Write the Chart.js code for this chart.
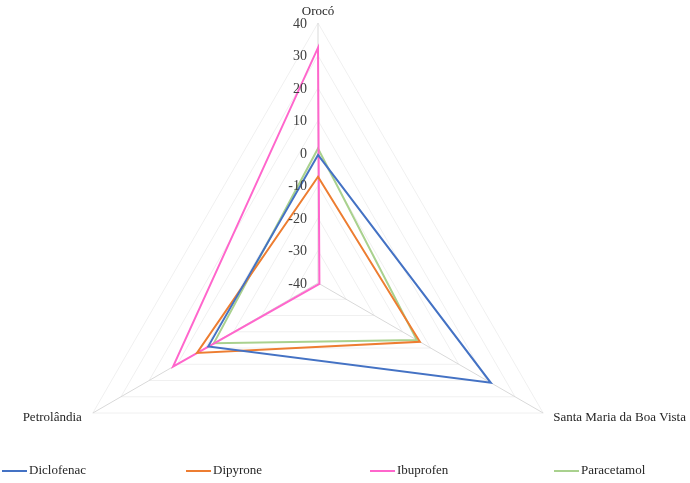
<!DOCTYPE html>
<html>
<head>
<meta charset="utf-8">
<script src="https://cdn.jsdelivr.net/npm/chart.js@4"></script>
<style>
  html, body { margin: 0; padding: 0; background: #fff; }
</style>
</head>
<body>
<canvas id="chart" width="690" height="483"></canvas>
<script>
const sites = ['Orocó', 'Santa Maria da Boa Vista', 'Petrolândia'];
const diclofenac = [-0.6, 21.4, -1];
const dipyrone = [-7.3, -3.8, 3];
const ibuprofen = [32.4, -39.5, 11.5];
const paracetamol = [1.4, -4.9, -3];
const tickValues = [-40, -30, -20, -10, 0, 10, 20, 30, 40];

const seriesNames = ['Diclofenac', 'Dipyrone', 'Ibuprofen', 'Paracetamol'];
const seriesColors = ['#4472C4', '#ED7D31', '#FF66CC', '#A9D18E'];
const seriesData = [diclofenac, dipyrone, ibuprofen, paracetamol];

const serif = '"Liberation Serif", "Times New Roman", serif';

// pin the radar's centre and radius to match the picture
const geometry = {
  id: 'geometry',
  afterLayout(chart) {
    const r = chart.scales.r;
    r.xCenter = 318;
    r.yCenter = 283;
    r.drawingArea = 260;
  }
};

// tick labels left of the vertical axis, site names at the corners, legend
const labelsPlugin = {
  id: 'labelsPlugin',
  afterDraw(chart) {
    const ctx = chart.ctx;
    const r = chart.scales.r;
    ctx.save();
    ctx.fillStyle = '#404040';
    ctx.font = '14px ' + serif;
    ctx.textAlign = 'right';
    ctx.textBaseline = 'middle';
    tickValues.forEach(v => {
      const d = r.getDistanceFromCenterForValue(v);
      ctx.fillText(String(v), r.xCenter - 11, r.yCenter - d + 1);
    });

    ctx.font = '13px ' + serif;
    ctx.fillStyle = '#262626';
    const top = r.getPointPosition(0, r.drawingArea);
    ctx.textAlign = 'center';
    ctx.textBaseline = 'bottom';
    ctx.fillText(sites[0], top.x, top.y - 5);

    const right = r.getPointPosition(1, r.drawingArea);
    ctx.textAlign = 'left';
    ctx.textBaseline = 'middle';
    ctx.fillText(sites[1], right.x + 10, right.y + 5);

    const left = r.getPointPosition(2, r.drawingArea);
    ctx.textAlign = 'right';
    ctx.fillText(sites[2], left.x - 11, left.y + 5);

    // legend
    ctx.textAlign = 'left';
    seriesNames.forEach((name, i) => {
      const x = 2 + i * 184;
      const y = 471;
      ctx.strokeStyle = seriesColors[i];
      ctx.lineWidth = 2;
      ctx.beginPath();
      ctx.moveTo(x, y);
      ctx.lineTo(x + 25, y);
      ctx.stroke();
      ctx.fillStyle = '#262626';
      ctx.fillText(name, x + 27, y);
    });
    ctx.restore();
  }
};

const ctx = document.getElementById('chart');
new Chart(ctx, {
  type: 'radar',
  data: {
    labels: sites,
    datasets: seriesNames.map((name, i) => ({
      label: name,
      data: seriesData[i],
      borderColor: seriesColors[i],
      backgroundColor: seriesColors[i],
      borderWidth: 2,
      fill: false,
      pointRadius: 0,
      pointHoverRadius: 0
    }))
  },
  options: {
    responsive: false,
    animation: false,
    elements: { line: { tension: 0 } },
    scales: {
      r: {
        min: -40,
        max: 40,
        ticks: { stepSize: 10, display: false },
        grid: { color: '#f0f0f0', lineWidth: 1 },
        angleLines: { color: '#d9d9d9', lineWidth: 1 },
        pointLabels: { display: false }
      }
    },
    plugins: {
      legend: { display: false },
      tooltip: { enabled: false }
    }
  },
  plugins: [geometry, labelsPlugin]
});
</script>
</body>
</html>
